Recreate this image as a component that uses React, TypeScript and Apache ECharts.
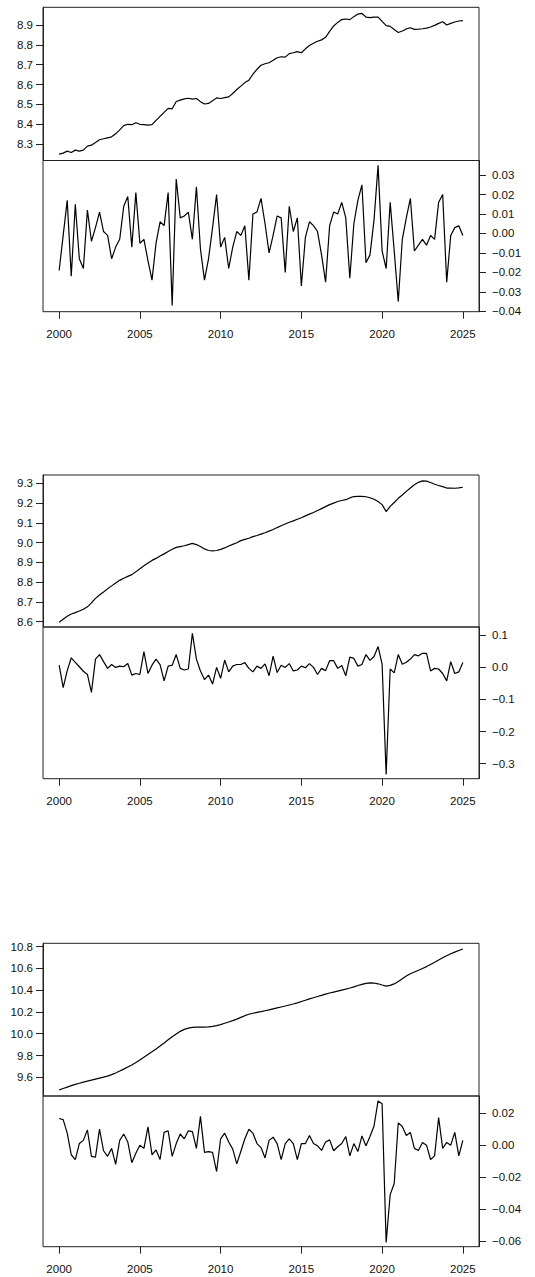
import React, { useEffect, useRef } from "react";
import * as echarts from "echarts";

const START_YEAR = 2000;
const PERIODS_PER_YEAR = 4;

const yearTicks = [2000, 2005, 2010, 2015, 2020, 2025];

const p1Level = [
  8.250, 8.255, 8.265, 8.258, 8.270, 8.265, 8.270, 8.290, 8.295, 8.308,
  8.322, 8.327, 8.332, 8.337, 8.352, 8.372, 8.393, 8.400, 8.398, 8.408,
  8.400, 8.398, 8.396, 8.398, 8.420, 8.440, 8.460, 8.480, 8.478, 8.515,
  8.522, 8.528, 8.531, 8.527, 8.530, 8.514, 8.502, 8.505, 8.518, 8.533,
  8.530, 8.534, 8.538, 8.555, 8.575, 8.592, 8.610, 8.622, 8.652, 8.677,
  8.697, 8.705, 8.710, 8.722, 8.735, 8.740, 8.738, 8.756, 8.760, 8.766,
  8.760, 8.780, 8.797, 8.808, 8.818, 8.825, 8.838, 8.868, 8.895, 8.913,
  8.927, 8.930, 8.927, 8.942, 8.955, 8.958, 8.940, 8.937, 8.940, 8.940,
  8.918, 8.897, 8.893, 8.877, 8.862, 8.870, 8.880, 8.886, 8.878, 8.879,
  8.881, 8.884, 8.890, 8.898, 8.908, 8.916, 8.900, 8.908, 8.915, 8.920,
  8.922,
];

const p1Diff = [
  -0.019, -0.001, 0.017, -0.022, 0.015, -0.013, -0.018, 0.012, -0.004, 0.003,
  0.011, 0.001, -0.001, -0.013, -0.007, -0.003, 0.014, 0.019, -0.007, 0.021,
  -0.005, -0.003, -0.014, -0.024, -0.005, 0.006, 0.004, 0.021, -0.037, 0.028,
  0.008, 0.009, 0.011, -0.003, 0.024, -0.008, -0.024, -0.013, 0.003, 0.020,
  -0.007, -0.002, -0.018, -0.007, 0.001, -0.001, 0.004, -0.024, 0.010, 0.011,
  0.018, 0.005, -0.010, -0.001, 0.009, 0.008, -0.020, 0.014, 0.001, 0.008,
  -0.027, -0.002, 0.006, 0.004, 0.001, -0.011, -0.025, 0.004, 0.011, 0.010,
  0.016, 0.008, -0.023, 0.005, 0.017, 0.025, -0.015, -0.011, 0.007, 0.035,
  -0.009, -0.018, 0.016, -0.009, -0.035, -0.003, 0.008, 0.018, -0.009, -0.006,
  -0.003, -0.006, -0.001, -0.003, 0.016, 0.020, -0.025, -0.001, 0.003, 0.004,
  -0.001,
];

const p2Level = [
  8.597, 8.612, 8.627, 8.639, 8.646, 8.654, 8.663, 8.675, 8.695, 8.718,
  8.735, 8.750, 8.766, 8.781, 8.796, 8.809, 8.820, 8.829, 8.838, 8.852,
  8.868, 8.883, 8.897, 8.910, 8.920, 8.932, 8.943, 8.955, 8.966, 8.976,
  8.980, 8.984, 8.990, 8.996, 8.990, 8.980, 8.968, 8.960, 8.958, 8.960,
  8.966, 8.973, 8.983, 8.991, 8.999, 9.010, 9.016, 9.022, 9.030, 9.036,
  9.043, 9.050, 9.058, 9.066, 9.076, 9.085, 9.094, 9.103, 9.110, 9.118,
  9.126, 9.135, 9.144, 9.152, 9.162, 9.172, 9.182, 9.192, 9.200, 9.208,
  9.213, 9.217, 9.226, 9.233, 9.234, 9.234, 9.232, 9.227, 9.219, 9.208,
  9.192, 9.157, 9.183, 9.203, 9.224, 9.241, 9.259, 9.276, 9.293, 9.305,
  9.312, 9.311, 9.304, 9.295, 9.289, 9.283, 9.276, 9.276, 9.275, 9.277,
  9.280,
];

const p2Diff = [
  0.007, -0.063, -0.010, 0.030, 0.016, 0.002, -0.012, -0.022, -0.078, 0.026,
  0.040, 0.018, -0.003, 0.009, 0.000, 0.004, 0.002, 0.012, -0.024, -0.019,
  -0.022, 0.049, -0.019, 0.007, 0.026, 0.009, -0.042, 0.004, 0.007, 0.040,
  -0.003, -0.008, -0.005, 0.106, 0.026, -0.011, -0.038, -0.024, -0.052, 0.000,
  -0.034, 0.023, -0.014, 0.004, 0.009, 0.009, 0.015, -0.003, -0.014, 0.004,
  -0.003, 0.011, -0.026, 0.035, -0.016, 0.007, 0.000, 0.012, -0.011, -0.008,
  0.004, -0.001, 0.012, 0.000, -0.022, -0.003, -0.010, 0.021, 0.021, -0.003,
  0.006, -0.026, 0.032, 0.028, 0.004, 0.009, 0.040, 0.022, 0.034, 0.065,
  0.010, -0.334, -0.005, -0.017, 0.040, 0.010, 0.016, 0.026, 0.040, 0.036,
  0.044, 0.044, -0.011, -0.003, -0.005, -0.019, -0.042, 0.018, -0.019, -0.014,
  0.015,
];

const p3Level = [
  9.484, 9.497, 9.510, 9.523, 9.535, 9.545, 9.555, 9.565, 9.574, 9.583,
  9.592, 9.601, 9.611, 9.624, 9.640, 9.657, 9.675, 9.694, 9.713, 9.735,
  9.758, 9.784, 9.809, 9.834, 9.860, 9.887, 9.915, 9.944, 9.972, 9.998,
  10.022, 10.040, 10.052, 10.058, 10.060, 10.060, 10.061, 10.064, 10.068, 10.074,
  10.084, 10.096, 10.108, 10.120, 10.134, 10.150, 10.166, 10.179, 10.188, 10.196,
  10.203, 10.211, 10.219, 10.228, 10.237, 10.246, 10.255, 10.264, 10.273, 10.284,
  10.296, 10.308, 10.320, 10.331, 10.342, 10.353, 10.364, 10.374, 10.383, 10.392,
  10.401, 10.410, 10.420, 10.431, 10.443, 10.454, 10.462, 10.467, 10.466, 10.459,
  10.448, 10.438, 10.444, 10.458, 10.480, 10.505, 10.530, 10.551, 10.567, 10.583,
  10.600, 10.617, 10.637, 10.657, 10.678, 10.698, 10.717, 10.735, 10.750, 10.765,
  10.779,
];

const p3Diff = [
  0.0167, 0.016, 0.0075, -0.006, -0.009, 0.001, 0.003, 0.0096, -0.007, -0.0075,
  0.010, -0.0035, -0.007, -0.002, -0.012, 0.003, 0.007, 0.002, -0.011, -0.005,
  0.000, -0.002, 0.0115, -0.006, -0.003, -0.009, 0.008, 0.009, -0.007, 0.001,
  0.007, 0.004, 0.009, 0.0085, -0.002, 0.018, -0.0045, -0.004, -0.0045, -0.0165,
  0.004, 0.0075, 0.002, -0.0025, -0.0117, -0.004, 0.004, 0.010, 0.0075, 0.001,
  -0.0015, -0.008, 0.003, 0.005, 0.001, -0.009, 0.001, 0.004, 0.001, -0.009,
  0.001, 0.001, 0.006, 0.001, -0.0004, -0.0033, 0.002, 0.0033, -0.0035, -0.001,
  0.001, 0.0054, -0.0067, 0.001, -0.004, 0.0058, -0.0004, 0.0054, 0.012, 0.0277,
  0.026, -0.061, -0.031, -0.024, 0.014, 0.0117, 0.006, 0.008, -0.002, -0.0033,
  0.0017, 0.0, -0.009, -0.0067, 0.0173, -0.002, 0.0017, 0.0, 0.008, -0.0067,
  0.003,
];

const p1LevelTicks = [8.3, 8.4, 8.5, 8.6, 8.7, 8.8, 8.9];
const p1DiffTicks = [-0.04, -0.03, -0.02, -0.01, 0.0, 0.01, 0.02, 0.03];
const p2LevelTicks = [8.6, 8.7, 8.8, 8.9, 9.0, 9.1, 9.2, 9.3];
const p2DiffTicks = [-0.3, -0.2, -0.1, 0.0, 0.1];
const p3LevelTicks = [9.6, 9.8, 10.0, 10.2, 10.4, 10.6, 10.8];
const p3DiffTicks = [-0.06, -0.04, -0.02, 0.0, 0.02];

const FONT = "'Liberation Sans', Arial, Helvetica, sans-serif";
const FS = 11.5;
const LEFT = 43;
const WIDTH = 436;

type Panel = {
  level: number[];
  diff: number[];
  levelTicks: number[];
  diffTicks: number[];
  levelDec: number;
  diffDec: number;
  levelRange: [number, number];
  diffRange: [number, number];
  topY: number;
  midY: number;
  botY: number;
};

const panels: Panel[] = [
  {
    level: p1Level, diff: p1Diff, levelTicks: p1LevelTicks, diffTicks: p1DiffTicks,
    levelDec: 1, diffDec: 2, levelRange: [8.2177, 8.989], diffRange: [-0.0402, 0.0375],
    topY: 7.3, midY: 160.5, botY: 311.7,
  },
  {
    level: p2Level, diff: p2Diff, levelTicks: p2LevelTicks, diffTicks: p2DiffTicks,
    levelDec: 1, diffDec: 1, levelRange: [8.573, 9.342], diffRange: [-0.347, 0.126],
    topY: 475, midY: 627, botY: 778.7,
  },
  {
    level: p3Level, diff: p3Diff, levelTicks: p3LevelTicks, diffTicks: p3DiffTicks,
    levelDec: 1, diffDec: 2, levelRange: [9.428, 10.831], diffRange: [-0.0636, 0.0308],
    topY: 943.3, midY: 1096, botY: 1246.7,
  },
];

const fmt = (dec: number) => (v: number) => {
  const s = Number(v).toFixed(dec);
  return s.startsWith("-") ? "\u2212" + s.slice(1) : s;
};

const toPairs = (vals: number[]) =>
  vals.map((v, i) => [START_YEAR + i / PERIODS_PER_YEAR, v]);

function buildOption() {
  const grid: any[] = [];
  const xAxis: any[] = [];
  const yAxis: any[] = [];
  const series: any[] = [];

  panels.forEach((p) => {
    const parts = [
      { data: p.level, top: p.topY, bottom: p.midY, ticks: p.levelTicks, dec: p.levelDec, range: p.levelRange, pos: "left", showX: false },
      { data: p.diff, top: p.midY, bottom: p.botY, ticks: p.diffTicks, dec: p.diffDec, range: p.diffRange, pos: "right", showX: true },
    ];
    parts.forEach((part) => {
      const gi = grid.length;
      grid.push({
        left: LEFT,
        width: WIDTH,
        top: part.top,
        height: part.bottom - part.top,
        show: true,
        borderColor: "#222",
        borderWidth: 1,
        containLabel: false,
      });
      xAxis.push({
        type: "value",
        gridIndex: gi,
        min: 1999,
        max: 2026,
        position: "bottom",
        axisLine: { show: false, onZero: false },
        splitLine: { show: false },
        axisTick: {
          show: part.showX,
          length: 7,
          customValues: yearTicks,
          lineStyle: { color: "#222", width: 1 },
        },
        axisLabel: {
          show: part.showX,
          customValues: yearTicks,
          margin: 16,
          fontSize: FS,
          fontFamily: FONT,
          color: "#111",
          formatter: (v: number) => String(v),
        },
      });
      yAxis.push({
        type: "value",
        gridIndex: gi,
        position: part.pos,
        min: part.range[0],
        max: part.range[1],
        axisLine: { show: true, onZero: false, lineStyle: { color: "#222", width: 1 } },
        splitLine: { show: false },
        axisTick: {
          show: true,
          length: 7,
          customValues: part.ticks,
          lineStyle: { color: "#222", width: 1 },
        },
        axisLabel: {
          show: true,
          customValues: part.ticks,
          margin: part.pos === "left" ? 10 : 13,
          fontSize: FS,
          fontFamily: FONT,
          color: "#111",
          formatter: fmt(part.dec),
        },
      });
      series.push({
        type: "line",
        xAxisIndex: gi,
        yAxisIndex: gi,
        data: toPairs(part.data),
        showSymbol: false,
        symbol: "none",
        lineStyle: { color: "#000", width: 1.2 },
        silent: true,
      });
    });
  });

  return {
    animation: false,
    backgroundColor: "#fff",
    grid,
    xAxis,
    yAxis,
    series,
  };
}

export default function App() {
  const ref = useRef<HTMLDivElement>(null);
  useEffect(() => {
    if (!ref.current) return;
    const chart = echarts.init(ref.current, undefined, { renderer: "svg" });
    chart.setOption(buildOption() as any);
    return () => chart.dispose();
  }, []);
  return (
    <div
      ref={ref}
      style={{ position: "absolute", left: 0, top: 0, width: 535, height: 1277, background: "#fff" }}
    />
  );
}
